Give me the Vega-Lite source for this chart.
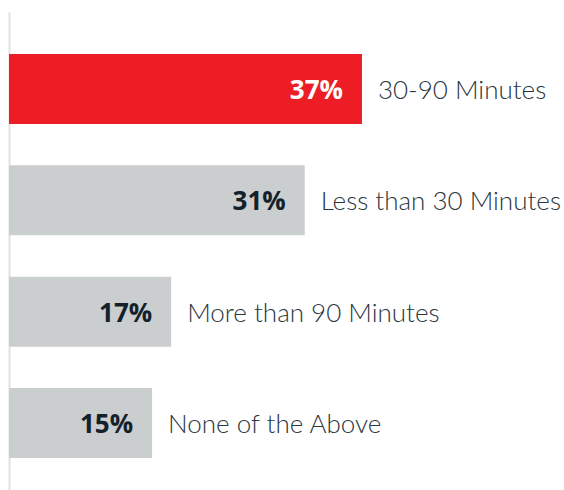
{
  "$schema": "https://vega.github.io/schema/vega-lite/v6.json",
  "width": 555,
  "height": 478,
  "autosize": {"type": "none"},
  "padding": {"left": 9, "top": 12, "right": 0, "bottom": 0},
  "background": "white",
  "config": {"view": {"stroke": null}},
  "data": {
    "values": [
      {"category": "30-90 Minutes", "share": 0.37},
      {"category": "Less than 30 Minutes", "share": 0.31},
      {"category": "More than 90 Minutes", "share": 0.17},
      {"category": "None of the Above", "share": 0.15}
    ]
  },
  "encoding": {
    "y": {
      "field": "category",
      "type": "nominal",
      "sort": null,
      "scale": {"paddingInner": 0.3713, "paddingOuter": 0.3323, "align": 0.5676},
      "axis": {"title": null, "labels": false, "ticks": false, "domainColor": "#e2e2e2", "domainWidth": 2, "grid": false}
    },
    "x": {
      "field": "share",
      "type": "quantitative",
      "scale": {"domain": [0, 0.5818], "nice": false, "zero": true},
      "axis": null
    }
  },
  "layer": [
    {
      "mark": {"type": "bar"},
      "encoding": {
        "color": {
          "condition": {"test": "datum.category === '30-90 Minutes'", "value": "#ed1d25"},
          "value": "#cbcecf"
        }
      }
    },
    {
      "mark": {"type": "text", "align": "right", "baseline": "middle", "dx": -19, "dy": 2, "font": "Open Sans", "fontSize": 26, "fontWeight": "bold"},
      "encoding": {
        "text": {"field": "share", "type": "quantitative", "format": ".0%"},
        "color": {
          "condition": {"test": "datum.category === '30-90 Minutes'", "value": "#ffffff"},
          "value": "#14212b"
        }
      }
    },
    {
      "mark": {"type": "text", "align": "left", "baseline": "middle", "dx": 16, "dy": 2, "font": "Lato", "fontSize": 26, "fontWeight": 300, "color": "#2b3640"},
      "encoding": {
        "text": {"field": "category", "type": "nominal"}
      }
    }
  ]
}
